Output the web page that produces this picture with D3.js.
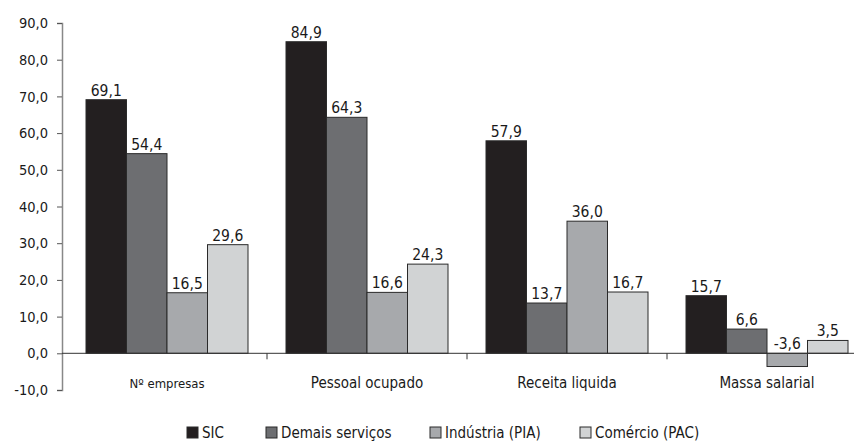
<!DOCTYPE html>
<html>
<head>
<meta charset="utf-8">
<script src="https://cdn.jsdelivr.net/npm/d3@7"></script>
<style>
  html, body { margin: 0; padding: 0; background: #fff; }
  svg text { font-family: "DejaVu Sans Condensed", "Liberation Sans Narrow", "Liberation Sans", sans-serif; fill: #1a1a1a; }
</style>
</head>
<body>
<svg id="chart" width="854" height="442"></svg>
<script>
// Indicators (x categories)
const categories = ["Nº empresas", "Pessoal ocupado", "Receita liquida", "Massa salarial"];
// Series
const seriesNames = ["SIC", "Demais serviços", "Indústria (PIA)", "Comércio (PAC)"];
const sic     = [69.1, 84.9, 57.9, 15.7];
const demais  = [54.4, 64.3, 13.7, 6.6];
const pia     = [16.5, 16.6, 36.0, -3.6];
const pac     = [29.6, 24.3, 16.7, 3.5];
const seriesValues = [sic, demais, pia, pac];
const seriesColors = ["#231f20", "#6d6e71", "#a7a9ac", "#d1d3d4"];
const yTicks = [-10, 0, 10, 20, 30, 40, 50, 60, 70, 80, 90];

const svg = d3.select("#chart");
const fmt = v => d3.format(".1f")(v).replace(".", ",").replace("−", "-");

const y = d3.scaleLinear().domain([-10, 90]).range([390, 23]);
const x0 = d3.scaleBand().domain(categories).range([67, 867]).padding(0);
const x1 = d3.scaleBand().domain(seriesNames).range([19, 181]).padding(0);

// Y axis
const yAxis = d3.axisLeft(y).tickValues(yTicks).tickSize(5).tickPadding(9).tickFormat(fmt);
const gy = svg.append("g").attr("transform", "translate(62,0)").call(yAxis);
gy.select(".domain").attr("stroke", "#888").attr("stroke-width", 1.5);
gy.selectAll(".tick line").attr("stroke", "#555");
gy.selectAll(".tick text").attr("font-size", 14.5).style("fill", "#1a1a1a");

// Bars
const groups = svg.append("g").selectAll("g")
  .data(categories)
  .join("g")
  .attr("transform", d => `translate(${x0(d)},0)`);

groups.selectAll("rect")
  .data((d, i) => seriesNames.map((s, j) => ({ s, v: seriesValues[j][i], c: seriesColors[j] })))
  .join("rect")
  .attr("x", d => x1(d.s))
  .attr("y", d => y(Math.max(0, d.v)))
  .attr("width", x1.bandwidth())
  .attr("height", d => Math.abs(y(d.v) - y(0)))
  .attr("fill", d => d.c)
  .attr("stroke", "#2a2a2a")
  .attr("stroke-width", 1);

groups.selectAll("text.val")
  .data((d, i) => seriesNames.map((s, j) => ({ s, v: seriesValues[j][i] })))
  .join("text")
  .attr("class", "val")
  .attr("x", d => x1(d.s) + x1.bandwidth() / 2)
  .attr("y", d => y(Math.max(0, d.v)) - 4)
  .attr("text-anchor", "middle")
  .attr("font-size", 15.5)
  .text(d => fmt(d.v));

// Zero line with category separators
const xAxis = d3.axisBottom(x0).tickSize(0).tickFormat("");
const gx = svg.append("g").attr("transform", `translate(0,${y(0)})`).call(xAxis);
gx.select(".domain").attr("stroke", "#333").attr("stroke-width", 1);
gx.select(".domain").attr("d", `M62,0H854`);
svg.append("g").selectAll("line")
  .data(categories.slice(1))
  .join("line")
  .attr("x1", d => x0(d)).attr("x2", d => x0(d))
  .attr("y1", y(0)).attr("y2", y(0) + 6)
  .attr("stroke", "#333");

// Category labels
svg.append("g").selectAll("text")
  .data(categories)
  .join("text")
  .attr("x", d => x0(d) + x0.bandwidth() / 2)
  .attr("y", 388)
  .attr("text-anchor", "middle")
  .attr("font-size", (d, i) => i === 0 ? 13 : 15)
  .text(d => d);

// Legend
const legendX = [187, 266, 430, 580];
const legend = svg.append("g").selectAll("g")
  .data(seriesNames)
  .join("g")
  .attr("transform", (d, i) => `translate(${legendX[i]},427)`);
legend.append("rect")
  .attr("width", 11).attr("height", 11)
  .attr("fill", (d, i) => seriesColors[i])
  .attr("stroke", "#2a2a2a").attr("stroke-width", 1);
legend.append("text")
  .attr("x", 15).attr("y", 11)
  .attr("font-size", 15)
  .text(d => d);
</script>
</body>
</html>
